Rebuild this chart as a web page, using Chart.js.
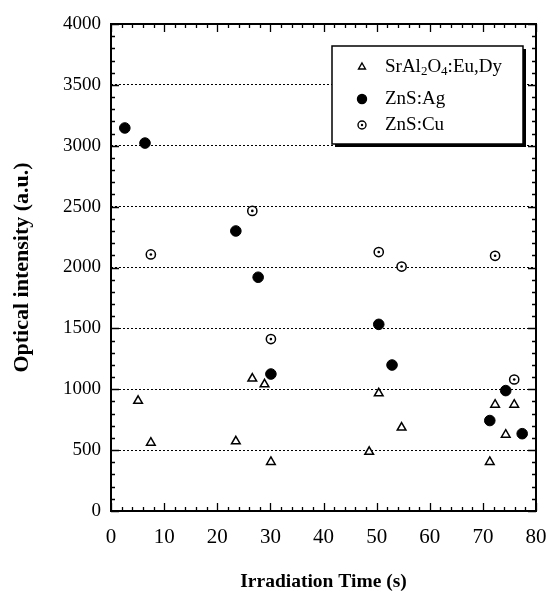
<!DOCTYPE html>
<html>
<head>
<meta charset="utf-8">
<script src="https://cdn.jsdelivr.net/npm/chart.js@4/dist/chart.umd.min.js"></script>
<style>
html,body{margin:0;padding:0;background:#fff;}
#wrap{width:548px;height:594px;}
</style>
</head>
<body>
<div id="wrap"><canvas id="c" width="548" height="594"></canvas></div>
<script>
// ---- data ----
const seriesNames = ['SrAl₂O₄:Eu,Dy', 'ZnS:Ag', 'ZnS:Cu'];
const srTime      = [5.1, 7.5, 23.5, 26.6, 28.9, 30.1, 48.6, 50.4, 54.7, 71.3, 72.3, 74.3, 75.9];
const srIntensity = [905, 561, 572, 1088, 1041, 403, 486, 967, 685, 403, 873, 627, 873];
const agTime      = [2.6, 6.4, 23.5, 27.7, 30.1, 50.4, 52.9, 71.3, 74.3, 77.4];
const agIntensity = [3146, 3022, 2300, 1920, 1125, 1533, 1199, 743, 989, 635];
const cuTime      = [7.5, 26.6, 30.1, 50.4, 54.7, 72.3, 75.9];
const cuIntensity = [2107, 2465, 1412, 2127, 2008, 2096, 1080];
const xTickLabels = [0, 10, 20, 30, 40, 50, 60, 70, 80];
const yTickLabels = [0, 500, 1000, 1500, 2000, 2500, 3000, 3500, 4000];
const xTitle = 'Irradiation Time (s)';
const yTitle = 'Optical intensity (a.u.)';

const toPts = (xs, ys) => xs.map((v, i) => ({x: v, y: ys[i]}));

// ---- plugins ----
const framePlugin = {
  id: 'frame',
  beforeDatasetsDraw(chart) {
    const {ctx, chartArea: a, scales: {x, y}} = chart;
    ctx.save();
    ctx.strokeStyle = '#000';
    ctx.lineWidth = 1.3;
    ctx.beginPath();
    for (let v = x.min; v <= x.max + 1e-9; v += 2) {
      const px = Math.round(x.getPixelForValue(v)) + 0.5;
      const major = xTickLabels.indexOf(Math.round(v)) >= 0 && Math.abs(v - Math.round(v)) < 1e-6;
      const len = major ? 8 : 4;
      ctx.moveTo(px, a.bottom); ctx.lineTo(px, a.bottom - len);
      ctx.moveTo(px, a.top); ctx.lineTo(px, a.top + len);
    }
    for (let v = y.min; v <= y.max + 1e-9; v += 100) {
      const py = Math.round(y.getPixelForValue(v)) + 0.5;
      const major = yTickLabels.indexOf(Math.round(v)) >= 0;
      const len = major ? 8 : 4;
      ctx.moveTo(a.left, py); ctx.lineTo(a.left + len, py);
      ctx.moveTo(a.right, py); ctx.lineTo(a.right - len, py);
    }
    ctx.stroke();
    ctx.lineWidth = 2;
    ctx.strokeRect(a.left, a.top, a.right - a.left, a.bottom - a.top);
    ctx.restore();
  },
  afterDatasetsDraw(chart) {
    const {ctx} = chart;
    const meta = chart.getDatasetMeta(2);
    ctx.save();
    ctx.fillStyle = '#000';
    meta.data.forEach(el => {
      ctx.beginPath();
      ctx.arc(el.x, el.y, 1.3, 0, Math.PI * 2);
      ctx.fill();
    });
    ctx.restore();
  }
};

const subMap = {'₀':'0','₁':'1','₂':'2','₃':'3','₄':'4','₅':'5','₆':'6','₇':'7','₈':'8','₉':'9'};
function drawRich(ctx, text, x, y, size, family) {
  let cx = x;
  for (const ch of text) {
    if (subMap[ch]) {
      ctx.font = `${Math.round(size * 0.68)}px ${family}`;
      ctx.fillText(subMap[ch], cx, y + size * 0.22);
      cx += ctx.measureText(subMap[ch]).width;
    } else {
      ctx.font = `${size}px ${family}`;
      ctx.fillText(ch, cx, y);
      cx += ctx.measureText(ch).width;
    }
  }
}

const legendPlugin = {
  id: 'boxLegend',
  afterDraw(chart) {
    const {ctx, chartArea: a} = chart;
    const left = a.left + 221, top = a.top + 22, w = 191, h = 98;
    ctx.save();
    ctx.fillStyle = '#000';
    ctx.fillRect(left + 3, top + 3, w, h);
    ctx.fillStyle = '#fff';
    ctx.fillRect(left, top, w, h);
    ctx.strokeStyle = '#000';
    ctx.lineWidth = 1.5;
    ctx.strokeRect(left, top, w, h);
    const rows = [top + 21, top + 53, top + 79];
    const fam = '"Liberation Serif", "Times New Roman", serif';
    chart.data.datasets.forEach((ds, i) => {
      const mx = left + 30, my = rows[i];
      ctx.lineWidth = 1.4;
      ctx.strokeStyle = '#000';
      ctx.fillStyle = ds.backgroundColor;
      Chart.helpers.drawPoint(ctx, {pointStyle: ds.pointStyle, radius: i === 1 ? 4.5 : 4, borderWidth: 1.4}, mx, my);
      if (i === 2) {
        ctx.fillStyle = '#000';
        ctx.beginPath(); ctx.arc(mx, my, 1.2, 0, Math.PI * 2); ctx.fill();
      }
      ctx.fillStyle = '#000';
      ctx.textBaseline = 'middle';
      ctx.textAlign = 'left';
      drawRich(ctx, ds.label, left + 53, my, 19, fam);
    });
    ctx.restore();
  }
};

const serif = '"Liberation Serif", "Times New Roman", serif';

new Chart(document.getElementById('c'), {
  type: 'scatter',
  data: {
    datasets: [
      {label: seriesNames[0], data: toPts(srTime, srIntensity), pointStyle: 'triangle',
       pointRadius: 5, borderWidth: 1.5, borderColor: '#000', backgroundColor: '#fff'},
      {label: seriesNames[1], data: toPts(agTime, agIntensity), pointStyle: 'circle',
       pointRadius: 5.3, borderWidth: 1, borderColor: '#000', backgroundColor: '#000'},
      {label: seriesNames[2], data: toPts(cuTime, cuIntensity), pointStyle: 'circle',
       pointRadius: 4.6, borderWidth: 1.5, borderColor: '#000', backgroundColor: '#fff'}
    ]
  },
  options: {
    responsive: false,
    animation: false,
    events: [],
    layout: {padding: {top: 24, right: 12, left: 0, bottom: 0}},
    plugins: {legend: {display: false}, tooltip: {enabled: false}},
    scales: {
      x: {
        type: 'linear', min: 0, max: 80,
        afterBuildTicks: s => { s.ticks = xTickLabels.map(v => ({value: v})); },
        afterFit: s => { s.height = 83; s.paddingLeft = 0; s.paddingRight = 0; },
        grid: {display: false, drawTicks: false},
        border: {display: false},
        ticks: {color: '#000', padding: 14, font: {family: serif, size: 21}, maxRotation: 0,
                callback: v => String(v)},
        title: {display: true, text: xTitle, color: '#000', padding: {top: 0, bottom: 0},
                font: {family: serif, size: 19.5, weight: 'bold'}}
      },
      y: {
        type: 'linear', min: 0, max: 4000,
        afterBuildTicks: s => { s.ticks = yTickLabels.map(v => ({value: v})); },
        afterFit: s => { s.width = 111; s.paddingTop = 0; s.paddingBottom = 0; },
        grid: {display: true, drawTicks: false, color: '#000', lineWidth: 1},
        border: {display: false, dash: [2, 2]},
        ticks: {color: '#000', padding: 10, font: {family: serif, size: 19},
                callback: v => String(v)},
        title: {display: true, text: yTitle, color: '#000', padding: {top: 9, bottom: 0},
                font: {family: serif, size: 22, weight: 'bold'}}
      }
    }
  },
  plugins: [framePlugin, legendPlugin]
});
</script>
</body>
</html>
